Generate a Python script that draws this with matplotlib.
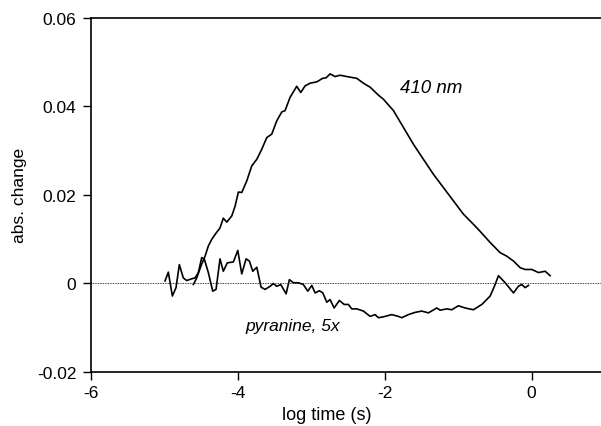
import matplotlib
matplotlib.use("Agg")
import matplotlib.pyplot as plt

plt.rcParams['font.family'] = ['Liberation Sans', 'DejaVu Sans']

# 410 nm absorbance change trace
x_410 = [-4.606, -4.560, -4.50, -4.447, -4.402, -4.356, -4.311, -4.243, -4.198, -4.151,
         -4.083, -4.038, -3.993, -3.947, -3.879, -3.811, -3.742, -3.674, -3.606, -3.538,
         -3.470, -3.402, -3.357, -3.289, -3.198, -3.143, -3.084, -3.016, -2.925, -2.845,
         -2.799, -2.744, -2.676, -2.608, -2.516, -2.380, -2.290, -2.199, -2.086, -2.019,
         -1.881, -1.745, -1.609, -1.473, -1.336, -1.200, -1.064, -0.928, -0.791, -0.700,
         -0.564, -0.428, -0.337, -0.246, -0.155, -0.087, 0.004, 0.094, 0.185, 0.253]
y_410 = [-0.0003, 0.0012, 0.0040, 0.0061, 0.0084, 0.0099, 0.0110, 0.0125, 0.0147, 0.0138,
         0.0152, 0.0174, 0.0206, 0.0205, 0.0231, 0.0265, 0.0280, 0.0303, 0.0329, 0.0337,
         0.0367, 0.0387, 0.0390, 0.0420, 0.0445, 0.0431, 0.0446, 0.0452, 0.0455, 0.0463,
         0.0464, 0.0473, 0.0467, 0.0470, 0.0467, 0.0463, 0.0452, 0.0443, 0.0425, 0.0416,
         0.0390, 0.0352, 0.0314, 0.0280, 0.0246, 0.0216, 0.0186, 0.0156, 0.0133, 0.0117,
         0.0092, 0.0069, 0.0061, 0.0050, 0.0035, 0.0031, 0.0031, 0.0024, 0.0027, 0.0017]

# pyranine trace (x5)
x_pyr = [-4.992, -4.947, -4.892, -4.842, -4.797, -4.743, -4.697, -4.628, -4.583, -4.538,
         -4.492, -4.456, -4.402, -4.342, -4.297, -4.243, -4.198, -4.144, -4.061, -4.001,
         -3.947, -3.888, -3.843, -3.797, -3.742, -3.684, -3.629, -3.561, -3.516, -3.470,
         -3.416, -3.343, -3.298, -3.244, -3.176, -3.108, -3.048, -2.993, -2.948, -2.890,
         -2.843, -2.789, -2.744, -2.689, -2.617, -2.553, -2.495, -2.449, -2.380, -2.290,
         -2.199, -2.131, -2.086, -2.019, -1.904, -1.815, -1.768, -1.678, -1.587, -1.496,
         -1.405, -1.290, -1.245, -1.154, -1.087, -0.997, -0.905, -0.792, -0.677, -0.564,
         -0.496, -0.451, -0.360, -0.246, -0.180, -0.134, -0.087, -0.042]
y_pyr = [0.0005, 0.0025, -0.0029, -0.0010, 0.0042, 0.0012, 0.0006, 0.0010, 0.0012, 0.0024,
         0.0058, 0.0054, 0.0024, -0.0018, -0.0014, 0.0055, 0.0027, 0.0046, 0.0048, 0.0074,
         0.0021, 0.0055, 0.0050, 0.0027, 0.0036, -0.0009, -0.0014, -0.0007, -0.0001, -0.0007,
         -0.0003, -0.0024, 0.0008, 0.0001, 0.0001, -0.0003, -0.0018, -0.0005, -0.0022, -0.0017,
         -0.0022, -0.0043, -0.0037, -0.0056, -0.0039, -0.0048, -0.0048, -0.0058, -0.0058, -0.0063,
         -0.0075, -0.0071, -0.0078, -0.0076, -0.0071, -0.0075, -0.0078, -0.0071, -0.0066, -0.0063,
         -0.0067, -0.0056, -0.0061, -0.0058, -0.0060, -0.0051, -0.0056, -0.0060, -0.0048, -0.0029,
         -0.0003, 0.0017, 0.0001, -0.0022, -0.0007, -0.0003, -0.0010, -0.0005]

x_ticks = [-6, -4, -2, 0]
y_ticks = [-0.02, 0, 0.02, 0.04, 0.06]
y_ticklabels = ['-0.02', '0', '0.02', '0.04', '0.06']

fig = plt.figure(figsize=(6.01, 4.27), dpi=100)
ax = fig.add_axes([91 / 601, 54.3 / 427, 514 / 601, 354 / 427])

ax.axhline(0, color='black', linestyle=(0, (1, 1)), linewidth=0.6)
ax.plot(x_410, y_410, color='black', linewidth=1.2)
ax.plot(x_pyr, y_pyr, color='black', linewidth=1.2)

ax.set_xlim(-6, 1)
ax.set_ylim(-0.02, 0.06)
ax.set_xticks(x_ticks)
ax.set_xticklabels([str(t) for t in x_ticks])
ax.set_yticks(y_ticks)
ax.set_yticklabels(y_ticklabels)

for s in ['left', 'bottom', 'top']:
    ax.spines[s].set_linewidth(1.2)
ax.spines['right'].set_visible(False)
ax.tick_params(direction='out', length=5.5, width=1.0, labelsize=12.5)
ax.tick_params(axis='y', pad=5)
ax.tick_params(axis='x', pad=4)

ax.set_ylabel('abs. change', fontsize=12.5)
ax.yaxis.set_label_coords(-0.14, 0.5)
ax.set_xlabel('log time (s)', fontsize=13)
ax.xaxis.set_label_coords(0.459, -0.122)
ax.xaxis.label.set_va('center')
ax.yaxis.label.set_va('center')

ax.text(-1.79, 0.0443, '410 nm', fontsize=13.5, style='italic', va='center', ha='left')
ax.text(-3.89, -0.0096, 'pyranine, 5x', fontsize=12.5, style='italic', va='center', ha='left')

fig.savefig('out.png', dpi=100)
